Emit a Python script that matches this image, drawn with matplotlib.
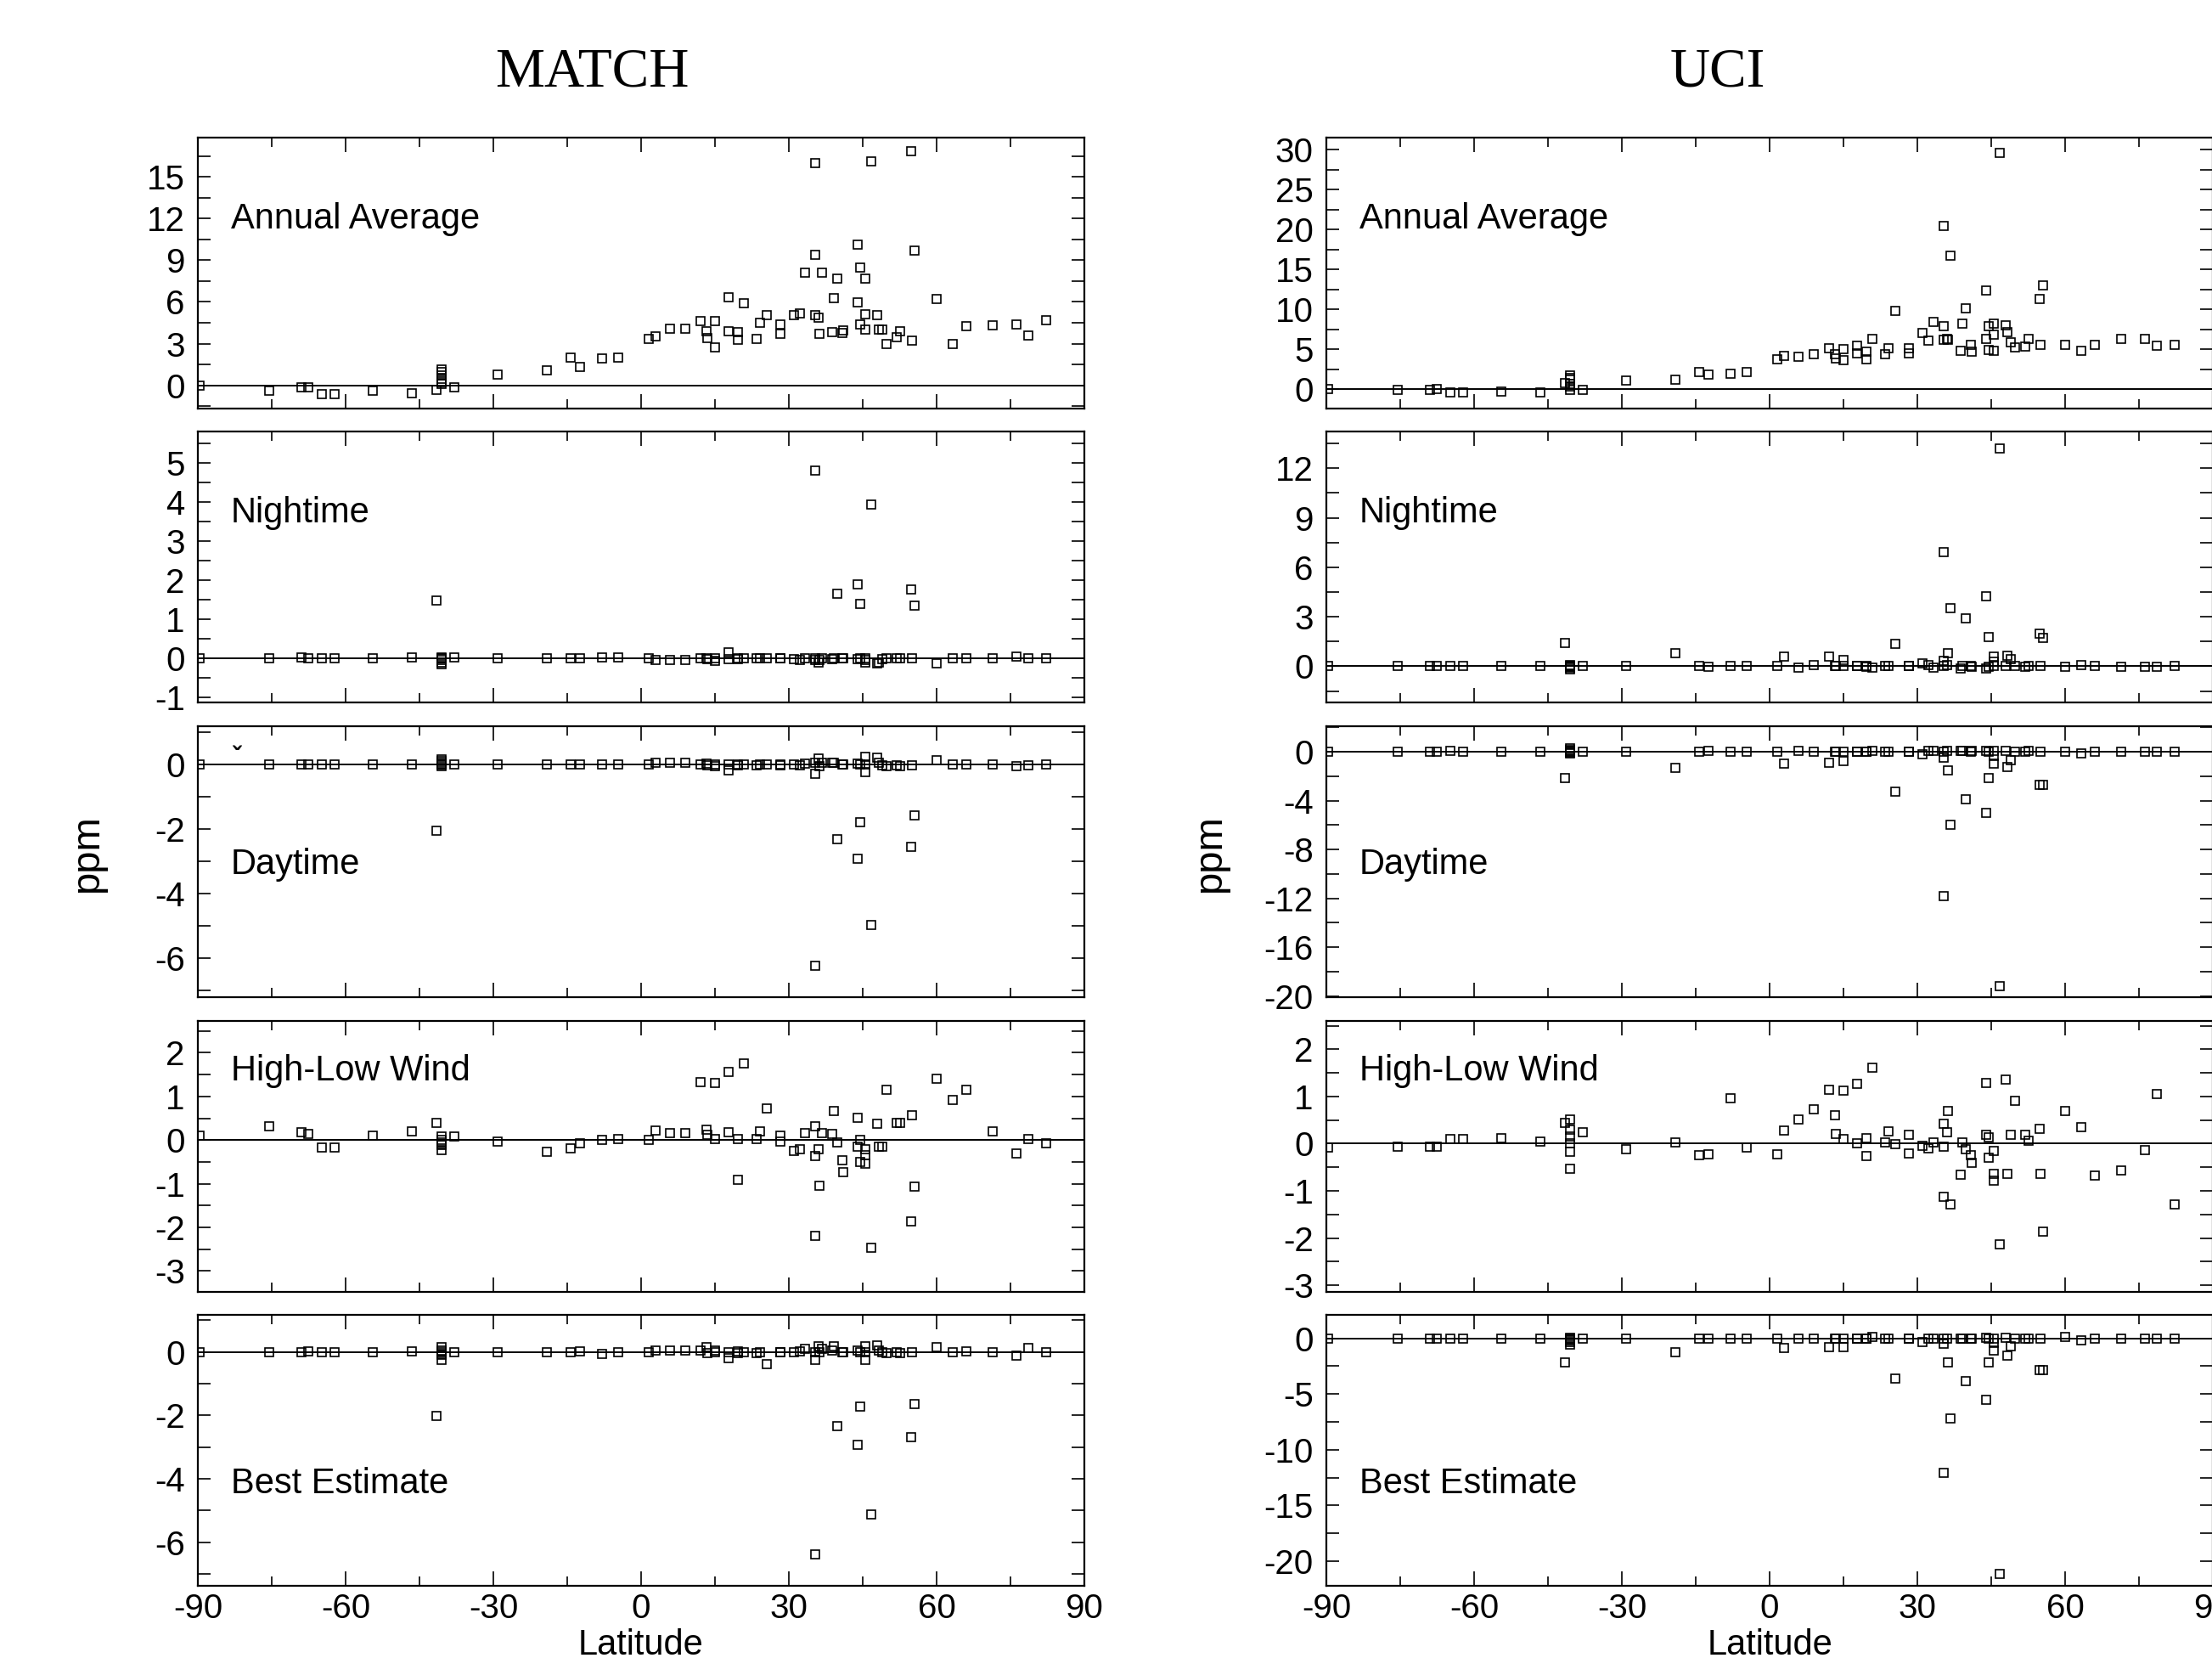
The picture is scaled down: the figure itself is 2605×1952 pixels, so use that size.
import numpy as np
import matplotlib
matplotlib.use("Agg")
import matplotlib.pyplot as plt
from matplotlib.ticker import MultipleLocator

plt.rcParams['font.family'] = ['Liberation Sans', 'DejaVu Sans']
plt.rcParams['axes.unicode_minus'] = False

# station latitudes (shared by all panels)
lat = [-89.7, -75.6, -68.9, -67.6, -64.8, -62.2, -54.5, -46.5, -41.5, -40.6,
       -40.6, -40.6, -40.6, -40.6, -40.6, -38.0, -29.2, -19.2, -14.3, -12.4,
       -8.0, -4.7, 1.6, 2.9, 5.9, 9.0, 12.0, 13.2, 13.4, 15.0,
       15.0, 17.8, 17.8, 19.6, 19.6, 20.9, 23.4, 24.1, 25.5, 28.2,
       28.2, 31.0, 32.2, 33.2, 35.3, 35.3, 35.3, 36.0, 36.2, 36.8,
       38.8, 39.1, 39.8, 40.8, 41.0, 44.0, 44.0, 44.4, 44.4, 45.6,
       45.6, 45.6, 46.8, 47.9, 48.3, 49.0, 49.9, 51.9, 52.5, 54.9,
       55.0, 55.5, 60.0, 63.2, 66.0, 71.3, 76.2, 78.7, 82.2]

match_annual = [0.0, -0.4, -0.15, -0.15, -0.65, -0.65, -0.4, -0.57, -0.35, 1.15,
                0.95, 0.7, 0.45, 0.25, 0.1, -0.15, 0.75, 1.05, 2.0, 1.35,
                1.95, 2.0, 3.35, 3.55, 4.1, 4.1, 4.65, 3.9, 3.4, 4.65,
                2.7, 6.35, 3.9, 3.8, 3.3, 5.9, 3.35, 4.5, 5.05, 4.4,
                3.7, 5.05, 5.15, 8.1, 16.0, 9.4, 5.05, 4.85, 3.7, 8.1,
                3.85, 6.25, 7.65, 3.75, 3.95, 10.15, 5.95, 8.45, 4.4, 7.7,
                5.1, 4.0, 16.1, 5.05, 4.0, 4.0, 3.0, 3.45, 3.9, 16.85,
                3.2, 9.7, 6.2, 3.0, 4.25, 4.3, 4.4, 3.6, 4.7]
match_night = [0.0, 0.0, 0.02, 0.0, 0.0, 0.0, 0.0, 0.02, 1.48, 0.0,
               -0.05, -0.1, -0.15, 0.02, 0.0, 0.02, 0.0, 0.0, 0.0, 0.0,
               0.02, 0.02, 0.0, -0.05, -0.05, -0.05, 0.0, 0.0, -0.02, -0.07,
               0.0, 0.16, -0.03, 0.0, -0.02, 0.0, 0.0, 0.0, 0.0, 0.0,
               0.0, -0.03, -0.05, 0.0, 4.8, -0.05, 0.0, -0.1, -0.05, 0.0,
               -0.03, 0.0, 1.65, 0.0, 0.0, 1.9, -0.03, 1.4, 0.0, -0.1,
               -0.05, 0.0, 3.93, -0.13, -0.1, -0.02, 0.0, 0.0, 0.0, 1.76,
               0.0, 1.35, -0.12, 0.0, 0.0, 0.0, 0.05, 0.0, 0.0]
match_day = [0.0, 0.0, 0.0, 0.0, 0.0, 0.0, 0.0, 0.0, -2.04, 0.15,
             0.05, 0.0, -0.05, 0.1, 0.0, 0.0, 0.0, 0.0, 0.0, 0.0,
             0.0, 0.0, 0.0, 0.05, 0.07, 0.07, 0.0, 0.03, -0.03, -0.05,
             0.0, -0.18, 0.0, -0.03, 0.0, 0.0, -0.03, 0.0, 0.0, 0.0,
             -0.02, 0.0, -0.03, 0.02, -6.23, -0.28, 0.05, 0.2, -0.05, 0.05,
             0.05, 0.05, -2.31, 0.0, 0.0, -2.92, 0.03, -1.78, 0.0, -0.22,
             0.25, 0.0, -4.97, 0.22, 0.05, -0.03, -0.05, -0.03, -0.05, -2.55,
             -0.03, -1.58, 0.13, 0.0, 0.0, 0.0, -0.05, -0.03, 0.0]
match_hl = [0.11, 0.32, 0.18, 0.14, -0.17, -0.17, 0.1, 0.2, 0.4, 0.08,
            0.0, -0.05, -0.1, -0.12, -0.23, 0.09, -0.03, -0.26, -0.19, -0.07,
            0.0, 0.03, 0.01, 0.21, 0.16, 0.16, 1.33, 0.24, 0.12, 1.3,
            0.03, 1.57, 0.18, 0.03, -0.92, 1.75, 0.03, 0.19, 0.73, 0.11,
            -0.03, -0.25, -0.21, 0.16, -2.19, 0.32, -0.36, -0.2, -1.04, 0.16,
            0.14, 0.66, -0.05, -0.47, -0.73, 0.52, -0.16, -0.5, 0.01, -0.21,
            -0.34, -0.54, -2.47, 0.37, -0.15, -0.15, 1.16, 0.39, 0.39, -1.86,
            0.56, -1.07, 1.41, 0.92, 1.16, 0.19, -0.31, 0.03, -0.07]
match_best = [0.0, 0.0, 0.0, 0.02, 0.0, 0.0, 0.0, 0.02, -2.02, 0.16,
              0.05, 0.0, -0.05, -0.1, -0.26, 0.0, 0.0, 0.0, 0.0, 0.02,
              -0.05, 0.0, 0.0, 0.05, 0.05, 0.05, 0.05, 0.14, -0.03, 0.05,
              0.0, -0.21, 0.0, 0.03, -0.03, 0.0, -0.03, 0.0, -0.39, 0.0,
              0.0, 0.0, 0.02, 0.1, -6.38, -0.26, 0.0, 0.19, 0.0, 0.1,
              0.05, 0.19, -2.33, 0.0, 0.0, -2.92, 0.05, -1.73, 0.0, -0.24,
              0.19, 0.0, -5.14, 0.21, 0.05, 0.0, -0.03, 0.0, -0.03, -2.69,
              0.0, -1.64, 0.16, 0.0, 0.03, 0.0, -0.11, 0.12, 0.0]

uci_annual = [0.0, -0.1, -0.1, 0.05, -0.45, -0.45, -0.3, -0.35, 0.8, 1.75,
              1.45, 1.15, 0.7, 0.3, -0.05, -0.1, 1.05, 1.15, 2.15, 1.8,
              1.9, 2.2, 3.8, 4.15, 4.05, 4.35, 5.1, 4.35, 3.9, 5.0,
              3.6, 5.5, 4.5, 4.7, 3.8, 6.3, 4.4, 5.1, 9.85, 5.1,
              4.5, 7.05, 6.1, 8.4, 20.4, 7.9, 6.2, 6.3, 6.2, 16.7,
              4.8, 8.2, 10.1, 5.6, 4.7, 12.4, 6.3, 7.9, 4.9, 8.25,
              6.8, 4.8, 29.6, 7.95, 7.1, 5.9, 5.2, 5.3, 6.3, 11.3,
              5.6, 12.95, 5.6, 4.8, 5.6, 6.35, 6.35, 5.5, 5.6]
uci_night = [0.0, 0.0, 0.0, 0.0, 0.0, 0.0, 0.0, 0.0, 1.42, 0.0,
             -0.17, -0.1, 0.05, 0.0, -0.05, 0.0, 0.0, 0.8, 0.0, -0.05,
             0.0, 0.0, 0.0, 0.57, -0.09, 0.05, 0.57, 0.0, 0.0, 0.4,
             0.0, 0.0, 0.0, 0.0, -0.03, -0.08, 0.0, 0.03, 1.35, 0.0,
             0.0, 0.17, 0.05, -0.1, 6.9, 0.34, 0.0, 0.1, 0.8, 3.5,
             -0.12, 0.0, 2.9, 0.0, -0.02, 4.25, -0.12, 1.77, -0.05, 0.6,
             0.3, 0.0, 13.2, 0.0, 0.63, 0.46, 0.0, -0.05, 0.0, 2.0,
             0.0, 1.7, -0.05, 0.1, 0.0, -0.05, -0.03, -0.05, 0.0]
uci_day = [0.0, 0.0, 0.0, 0.0, 0.05, 0.0, 0.0, 0.0, -2.17, 0.3,
           0.15, 0.05, 0.0, -0.05, -0.1, 0.0, 0.0, -1.28, 0.0, 0.05,
           0.0, 0.0, 0.0, -0.93, 0.05, 0.0, -0.88, 0.0, 0.0, -0.77,
           0.0, 0.0, 0.0, 0.0, 0.0, 0.05, 0.0, 0.0, -3.26, 0.0,
           0.0, -0.23, 0.05, 0.1, -11.8, -0.5, 0.0, 0.1, -1.51, -5.98,
           0.05, 0.05, -3.89, 0.0, 0.05, -5.0, 0.1, -2.17, 0.0, -0.98,
           -0.35, 0.05, -19.2, 0.05, -1.23, -0.65, 0.0, 0.0, 0.05, -2.72,
           0.0, -2.72, 0.0, -0.16, 0.0, 0.0, 0.0, 0.0, 0.0]
uci_hl = [-0.09, -0.07, -0.07, -0.06, 0.09, 0.09, 0.11, 0.05, 0.44, 0.52,
          0.3, 0.15, 0.0, -0.18, -0.53, 0.24, -0.12, 0.03, -0.24, -0.22,
          0.96, -0.08, -0.23, 0.28, 0.51, 0.72, 1.15, 0.6, 0.2, 1.13,
          0.09, 1.26, 0.0, 0.12, -0.26, 1.61, 0.03, 0.26, -0.01, 0.19,
          -0.21, -0.05, -0.1, 0.03, 0.42, -1.12, -0.06, 0.24, 0.7, -1.28,
          -0.65, 0.03, -0.12, -0.24, -0.41, 1.29, 0.18, -0.3, 0.13, -0.78,
          -0.15, -0.63, -2.13, 1.35, -0.63, 0.18, 0.91, 0.18, 0.06, 0.31,
          -0.63, -1.87, 0.69, 0.35, -0.68, -0.57, -0.13, 1.05, -1.28]
uci_best = [0.0, 0.0, 0.0, 0.0, 0.0, 0.0, 0.0, 0.0, -2.13, 0.05,
            0.0, -0.1, -0.2, -0.35, -0.56, 0.0, 0.0, -1.24, 0.0, 0.0,
            0.0, 0.0, 0.0, -0.89, 0.0, 0.0, -0.81, 0.0, 0.0, -0.81,
            0.0, 0.0, 0.0, 0.0, 0.0, 0.1, 0.0, 0.0, -3.65, 0.0,
            0.0, -0.3, 0.0, 0.0, -12.1, -0.5, 0.0, 0.0, -2.13, -7.16,
            0.0, 0.0, -3.86, 0.0, 0.0, -5.5, 0.05, -2.16, 0.0, -1.07,
            -0.43, 0.0, -21.17, 0.05, -1.52, -0.74, 0.0, 0.0, 0.0, -2.84,
            0.0, -2.84, 0.1, -0.18, 0.0, 0.0, 0.0, 0.0, 0.0]

panel_names = ['Annual Average', 'Nightime', 'Daytime', 'High-Low Wind', 'Best Estimate']
match_vals = [match_annual, match_night, match_day, match_hl, match_best]
uci_vals = [uci_annual, uci_night, uci_day, uci_hl, uci_best]
match_ylim = [(-1.67, 17.82), (-1.13, 5.8), (-7.21, 1.19), (-3.48, 2.73), (-7.38, 1.17)]
uci_ylim = [(-2.42, 31.5), (-2.19, 14.23), (-20.1, 2.1), (-3.14, 2.6), (-22.2, 2.1)]
match_step = [3, 1, 2, 1, 2]
uci_step = [5, 3, 4, 1, 5]
label_ypos = [0.70, 0.70, 0.49, 0.815, 0.376]

W, H = 2605, 1952
fig = plt.figure(figsize=(W / 100, H / 100), dpi=100)

row_top = [162, 508, 855, 1202, 1548]
ph = 319
cols = [(233, 1044), (1562, 1044)]

for c, (vals_list, ylims, steps) in enumerate([(match_vals, match_ylim, match_step),
                                                (uci_vals, uci_ylim, uci_step)]):
    x0, w = cols[c]
    for r in range(5):
        ax = fig.add_axes([x0 / W, 1 - (row_top[r] + ph) / H, w / W, ph / H])
        ax.axhline(0, color='black', lw=1.4, zorder=1)
        ax.plot(lat, vals_list[r], linestyle='none', marker='s', ms=6.8,
                mfc='none', mec='black', mew=1.2, zorder=2)
        ax.set_xlim(-90, 90)
        ax.set_ylim(*ylims[r])
        ax.xaxis.set_major_locator(MultipleLocator(30))
        ax.xaxis.set_minor_locator(MultipleLocator(15))
        ax.yaxis.set_major_locator(MultipleLocator(steps[r]))
        ax.yaxis.set_minor_locator(MultipleLocator(steps[r] / 2))
        ax.tick_params(axis='both', which='both', direction='in',
                       top=True, right=True, width=1.2, labelsize=29)
        ax.tick_params(axis='x', which='major', length=12, pad=6)
        ax.tick_params(axis='x', which='minor', length=8)
        ax.tick_params(axis='y', which='both', length=11, pad=11)
        for sp in ax.spines.values():
            sp.set_linewidth(1.6)
        if r < 4:
            ax.tick_params(axis='x', labelbottom=False)
        ax.text(0.037, label_ypos[r], panel_names[r], transform=ax.transAxes,
                fontsize=30, va='center', ha='left')
        if c == 0 and r == 2:
            ax.text(-82, 0.2, 'ˇ', fontsize=22, fontweight='bold',
                    ha='center', va='center')
    fig.text((x0 + w / 2) / W, 1 - 1948 / H, 'Latitude', fontsize=30,
             ha='center', va='baseline')

fig.text(697 / W, 1 - 86 / H, 'MATCH', family='Liberation Serif',
         fontsize=47, ha='center', va='center')
fig.text(2023 / W, 1 - 86 / H, 'UCI', family='Liberation Serif',
         fontsize=47, ha='center', va='center')
fig.text(103 / W, 1 - 1005 / H, 'ppm', fontsize=34, rotation=90,
         ha='center', va='center')
fig.text(1425 / W, 1 - 1005 / H, 'ppm', fontsize=34, rotation=90,
         ha='center', va='center')

fig.savefig('out.png', dpi=100)
